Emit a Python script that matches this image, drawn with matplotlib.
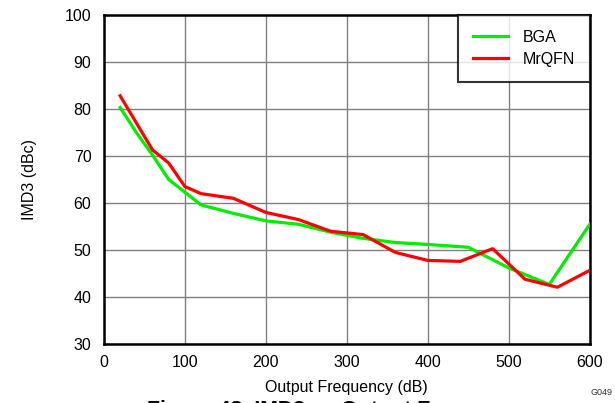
import matplotlib
matplotlib.use("Agg")
import matplotlib.pyplot as plt
from matplotlib.patches import Rectangle

plt.rcParams['font.family'] = ['Liberation Sans', 'DejaVu Sans']

bga_x = [20, 40, 60, 80, 100, 120, 160, 200, 240, 280, 320, 360, 400, 450, 500, 550, 600]
bga_y = [80.3, 75, 70.2, 65, 62.3, 59.6, 57.8, 56.2, 55.5, 53.8, 52.5, 51.6, 51.2, 50.6, 46.2, 42.7, 55.5]
mrqfn_x = [20, 60, 80, 100, 120, 160, 200, 240, 280, 320, 360, 400, 440, 480, 520, 560, 600]
mrqfn_y = [82.8, 71.3, 68.5, 63.5, 62.0, 61.0, 58.0, 56.5, 54.0, 53.3, 49.5, 47.8, 47.6, 50.3, 43.8, 42.1, 45.7]
xticks = [0, 100, 200, 300, 400, 500, 600]
yticks = [30, 40, 50, 60, 70, 80, 90, 100]

fig = plt.figure(figsize=(6.15, 4.03), dpi=100)
ax = fig.add_axes([0.169, 0.146, 0.79, 0.817])

ax.plot(bga_x, bga_y, color='#00ee00', lw=2.3, label='BGA', zorder=3)
ax.plot(mrqfn_x, mrqfn_y, color='#ff0000', lw=2.3, label='MrQFN', zorder=4)

ax.set_xlim(0, 600)
ax.set_ylim(30, 100)
ax.set_xticks(xticks)
ax.set_yticks(yticks)
ax.grid(True, color='#808080', lw=1.0)
ax.set_axisbelow(True)
ax.tick_params(axis='x', length=0, labelsize=11.5, pad=8)
ax.tick_params(axis='y', length=0, labelsize=11.5, pad=9)
for s in ax.spines.values():
    s.set_linewidth(1.8)
    s.set_color('black')

ax.set_xlabel('Output Frequency (dB)', fontsize=11.5, labelpad=7)
ax.set_ylabel('IMD3 (dBc)', fontsize=11.5, labelpad=20)

leg = ax.legend(loc='upper right', fontsize=11.5, frameon=True, fancybox=False,
                borderaxespad=0, handlelength=2.2, handletextpad=0.9,
                borderpad=0.95, labelspacing=0.42)
leg.get_frame().set_edgecolor('black')
leg.get_frame().set_linewidth(1.5)

fig.text(0.960, 0.015, 'G049', fontsize=6.5, ha='left', va='bottom', color='#333333')

# caption, cut off at the bottom edge as in the reference
renderer = fig.canvas.get_renderer()
probe = fig.text(0, 0, 'Figure 48. IMD3 vs Output ', fontsize=15, fontweight='bold')
w = probe.get_window_extent(renderer).width
probe.remove()
fs = 15 * 271.0 / w
t = fig.text(147 / 615, -0.031, 'Figure 48. IMD3 vs Output Frequency', fontsize=fs,
             fontweight='bold', ha='left', va='baseline')
clip = Rectangle((0, 0), 432 / 615, 1, transform=fig.transFigure, facecolor='none')
t.set_clip_path(clip)

fig.savefig('out.png', dpi=100)
